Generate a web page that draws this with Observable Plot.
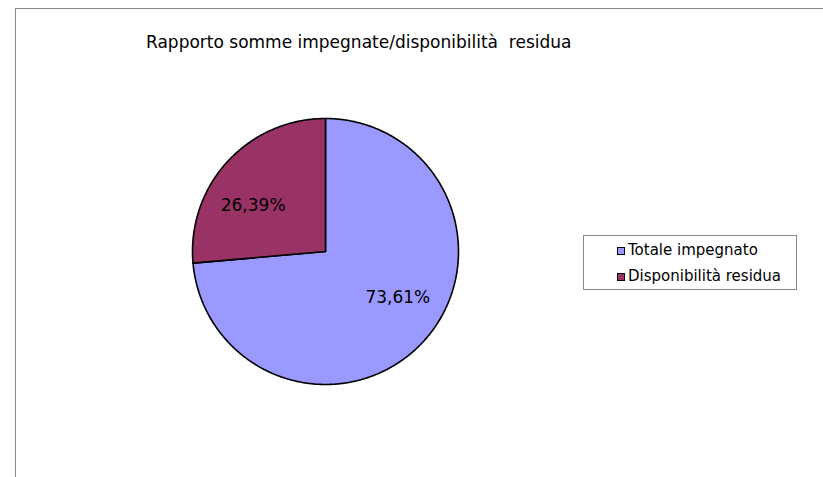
<!DOCTYPE html>
<html>
<head>
<meta charset="utf-8">
<script src="https://cdn.jsdelivr.net/npm/d3@7"></script>
<script src="https://cdn.jsdelivr.net/npm/@observablehq/plot@0.6"></script>
<style>
  body { margin: 0; background: #fff; }
  #wrap { position: relative; width: 823px; height: 477px; background: #fff; overflow: hidden; font-family: "DejaVu Sans", Verdana, sans-serif; }
  #frame { position: absolute; left: 15px; top: 8px; right: -2px; bottom: -2px; border-left: 1px solid #888; border-top: 1px solid #888; }
  #title { position: absolute; left: 146px; top: 32px; font-size: 17px; color: #000; white-space: pre; }
  #chart { position: absolute; left: 0; top: 0; }
  #legend { position: absolute; left: 583px; top: 235px; width: 214px; height: 55px; border: 1px solid #888; box-sizing: border-box; font-size: 15px; }
  .item { position: absolute; left: 33px; white-space: nowrap; line-height: 16px; }
  .sw { display: inline-block; width: 6px; height: 6px; border: 1.5px solid #000; margin-right: 3px; vertical-align: 0px; }
</style>
</head>
<body>
<div id="wrap">
  <div id="frame"></div>
  <div id="title"></div>
  <div id="chart"></div>
  <div id="legend"></div>
</div>
<script>
const titleText = "Rapporto somme impegnate/disponibilità  residua";
const categories = ["Totale impegnato", "Disponibilità residua"];
const values = [73.61, 26.39];
const labels = ["73,61%", "26,39%"];
const colors = ["#9999FF", "#993366"];

document.getElementById("title").textContent = titleText;

// Build slice outlines from the values (clockwise from 12 o'clock)
const pie = d3.pie().sort(null).value(d => d)(values);
const pts = [];
const labelData = [];
pie.forEach((s, i) => {
  const cat = categories[i];
  pts.push({cat, x: 0, y: 0});
  const n = Math.max(2, Math.ceil((s.endAngle - s.startAngle) / (Math.PI / 360)));
  for (let k = 0; k <= n; k++) {
    const a = s.startAngle + (s.endAngle - s.startAngle) * k / n;
    pts.push({cat, x: Math.sin(a), y: Math.cos(a)});
  }
  pts.push({cat, x: 0, y: 0});
  const mid = (s.startAngle + s.endAngle) / 2 - Math.PI / 18;
  labelData.push({cat, label: labels[i], x: 0.645 * Math.sin(mid), y: 0.645 * Math.cos(mid)});
});

const chart = Plot.plot({
  width: 823,
  height: 477,
  x: {domain: [-1, 1], range: [192, 458], axis: null},
  y: {domain: [-1, 1], range: [384, 118], axis: null},
  color: {domain: categories, range: colors},
  style: {background: "transparent", fontFamily: "DejaVu Sans, Verdana, sans-serif"},
  marks: [
    Plot.line(pts, {x: "x", y: "y", z: "cat", fill: "cat", stroke: "#000", strokeWidth: 1.6, strokeLinejoin: "round"}),
    Plot.text(labelData, {x: "x", y: "y", text: "label", fontSize: 17, fill: "#000"})
  ]
});
document.getElementById("chart").appendChild(chart);

const legend = document.getElementById("legend");
categories.forEach((c, i) => {
  const row = document.createElement("div");
  row.className = "item";
  row.style.top = (6 + i * 26) + "px";
  const sw = document.createElement("span");
  sw.className = "sw";
  sw.style.background = colors[i];
  row.appendChild(sw);
  row.appendChild(document.createTextNode(c));
  legend.appendChild(row);
});
</script>
</body>
</html>
